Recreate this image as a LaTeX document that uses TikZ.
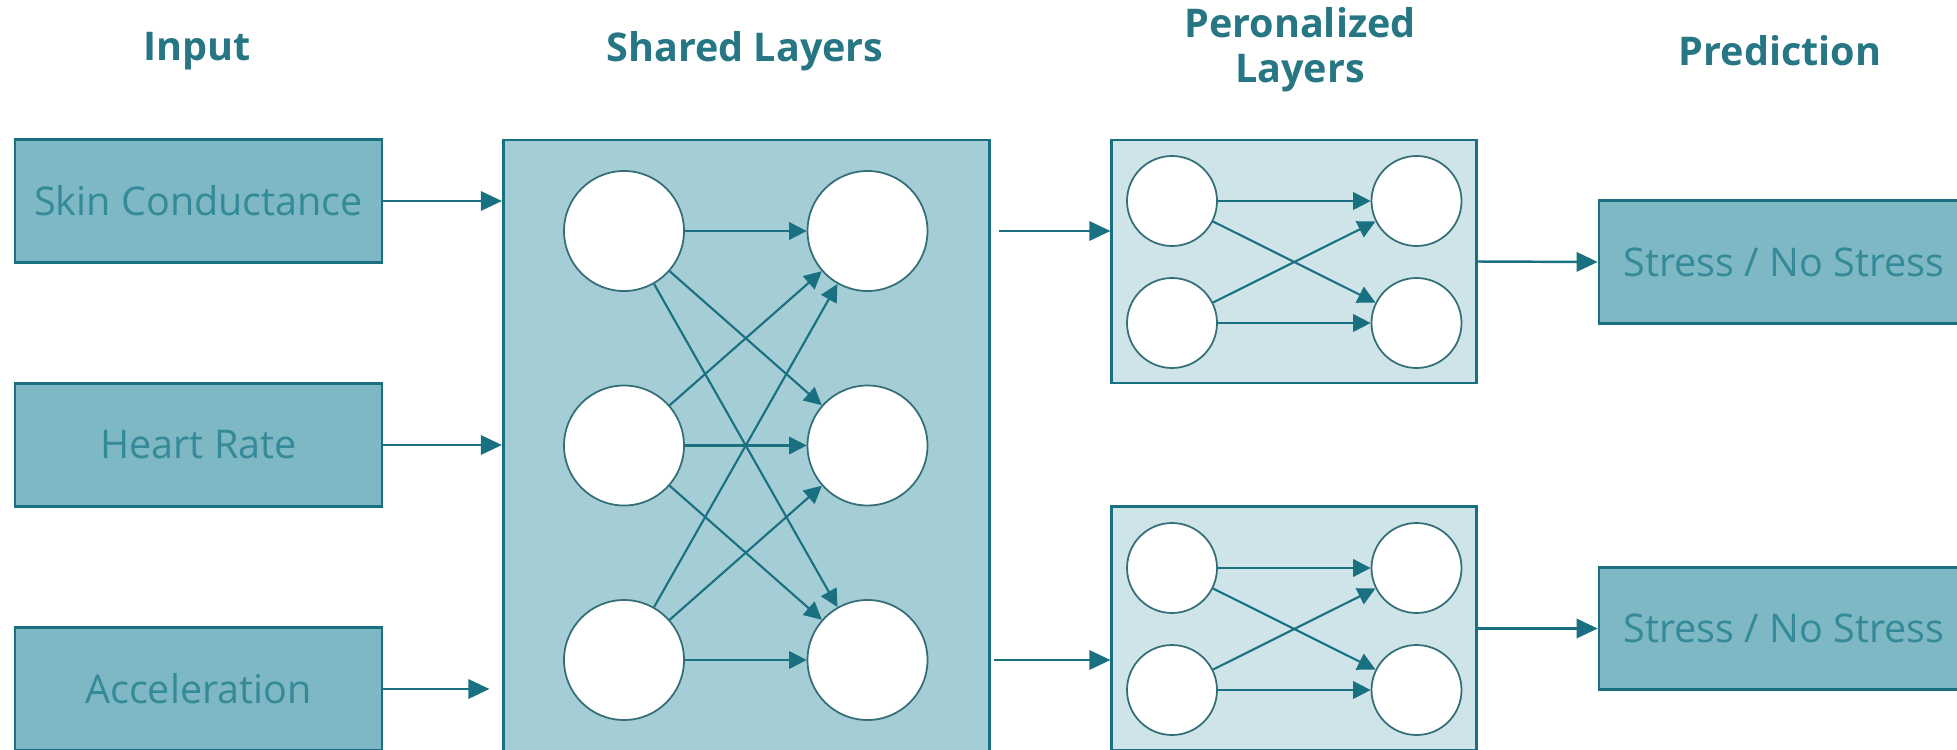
\documentclass[tikz,border=0pt]{standalone}
\usepackage{fontspec}
\setmainfont{Open Sans}
\usetikzlibrary{calc}
\usetikzlibrary{arrows.meta}

\definecolor{tline}{RGB}{24,112,128}
\definecolor{ttitle}{RGB}{38,118,132}
\definecolor{ttext}{RGB}{52,138,152}
\definecolor{fin}{RGB}{125,184,196}
\definecolor{fshared}{RGB}{164,205,214}
\definecolor{fpers}{RGB}{206,228,233}
\definecolor{tcirc}{RGB}{52,110,120}

\begin{document}
\begin{tikzpicture}[
  title/.style={text=ttitle, font=\fontsize{22.5}{25.5}\selectfont\bfseries, align=center},
  inbox/.style={draw=tline, fill=fin, line width=1.5pt, text=ttext, minimum width=7.34cm, minimum height=2.45cm, font=\fontsize{22.5}{26}\selectfont},
  layerbox/.style={draw=tline, line width=1.5pt},
  neuron/.style={circle, draw=tcirc, fill=white, line width=1pt, inner sep=0pt},
  arr/.style={tline, line width=1.4pt, -{Triangle[length=12pt,width=11pt]}},
  link/.style={tline, line width=1.2pt, -{Triangle[length=10pt,width=10pt]}}
]
\useasboundingbox (0,0) rectangle (39.14,-14.98);

\node[title] (tin) at (3.94,-1.02) {Input};
\node[title] (tshared) at (14.9,-1.02) {Shared Layers};
\node[title] (tpers) at (26.0,-1.0) {Peronalized\\Layers};
\node[title] (tpred) at (35.6,-1.02) {Prediction};

\node[inbox] (skin) at (3.97,-4.02) {Skin Conductance};
\node[inbox] (heart) at (3.97,-8.9) {Heart Rate};
\node[inbox] (accel) at (3.97,-13.78) {Acceleration};

\node[layerbox, fill=fshared, minimum width=9.73cm, minimum height=12.3cm] (shared) at (14.93,-8.95) {};
\node[layerbox, fill=fpers, minimum width=7.29cm, minimum height=4.86cm] (ptop) at (25.88,-5.23) {};
\node[layerbox, fill=fpers, minimum width=7.29cm, minimum height=4.87cm] (pbot) at (25.88,-12.57) {};

\node[inbox, minimum width=7.4cm] (predtop) at (35.68,-5.24) {Stress / No Stress};
\node[inbox, minimum width=7.4cm] (predbot) at (35.68,-12.57) {Stress / No Stress};

\foreach \i/\y in {1/-4.62, 2/-8.91, 3/-13.2} {
  \node[neuron, minimum size=2.4cm] (l\i) at (12.48,\y) {};
  \node[neuron, minimum size=2.4cm] (r\i) at (17.35,\y) {};
}
\foreach \i in {1,2,3} \foreach \j in {1,2,3} \draw[link] (l\i) -- (r\j);

\foreach \b/\ya/\yb in {t/-4.02/-6.46, b/-11.36/-13.8} {
  \node[neuron, minimum size=1.8cm] (p\b l1) at (23.44,\ya) {};
  \node[neuron, minimum size=1.8cm] (p\b l2) at (23.44,\yb) {};
  \node[neuron, minimum size=1.8cm] (p\b r1) at (28.33,\ya) {};
  \node[neuron, minimum size=1.8cm] (p\b r2) at (28.33,\yb) {};
  \foreach \i in {1,2} \foreach \j in {1,2} \draw[link] (p\b l\i) -- (p\b r\j);
}

\draw[arr] (skin.east) -- (shared.west |- skin);
\draw[arr] (heart.east) -- (shared.west |- heart);
\draw[arr] (accel.east) -- ($(shared.west |- accel)+(-0.25,0)$);

\draw[arr] ($(shared.east |- r1)+(0.15,0)$) -- (ptop.west |- r1);
\draw[arr] ($(shared.east |- r3)+(0.05,0)$) -- (pbot.west |- r3);

\draw[arr] (ptop.east) -- (predtop.west);
\draw[arr] (pbot.east) -- (predbot.west);

\end{tikzpicture}
\end{document}
